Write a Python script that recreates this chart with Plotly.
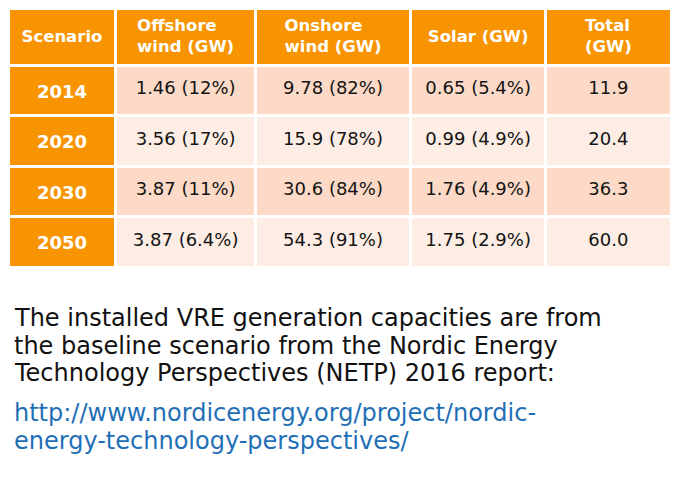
import plotly.graph_objects as go

scenarios = ["2014", "2020", "2030", "2050"]
offshore = ["1.46 (12%)", "3.56 (17%)", "3.87 (11%)", "3.87 (6.4%)"]
onshore = ["9.78 (82%)", "15.9 (78%)", "30.6 (84%)", "54.3 (91%)"]
solar = ["0.65 (5.4%)", "0.99 (4.9%)", "1.76 (4.9%)", "1.75 (2.9%)"]
total = ["11.9", "20.4", "36.3", "60.0"]
headers = ["Scenario", "Offshore<br>wind (GW)", "Onshore<br>wind (GW)", "Solar (GW)", "Total<br>(GW)"]

note_lines = [
    "The installed VRE generation capacities are from",
    "the baseline scenario from the Nordic Energy",
    "Technology Perspectives (NETP) 2016 report:",
]
link_lines = [
    "http://www.nordicenergy.org/project/nordic-",
    "energy-technology-perspectives/",
]

# page body has an 8px margin, so the figure sits at (8, 8) in the window
OFF = 8
W, H = 680 - OFF, 478 - OFF
ORANGE = "#F79400"
PEACH = "#FCDAC7"
LIGHT = "#FDEDE4"
FONT = "DejaVu Sans"
n = len(scenarios)
row_fill = [PEACH if i % 2 == 0 else LIGHT for i in range(n)]
colw = [108, 139.5, 155.5, 135, 125.5]
xdom = [0, sum(colw) / W]


def ydom(top, bottom):
    return [1 - (bottom - OFF) / H, 1 - (top - OFF) / H]


fig = go.Figure()

# cell backgrounds
fig.add_trace(go.Table(
    domain=dict(x=xdom, y=ydom(8.5, 272)),
    columnwidth=colw,
    header=dict(values=[""] * len(headers), fill_color=ORANGE,
                line=dict(color="white", width=3), height=56.5),
    cells=dict(values=[[""] * n] * 5,
               fill_color=[[ORANGE] * n, row_fill, row_fill, row_fill, row_fill],
               line=dict(color="white", width=3), height=50.5),
))

# two-line headers and body text
two_line = [h if "<br>" in h else "" for h in headers]
fig.add_trace(go.Table(
    domain=dict(x=xdom, y=ydom(8, 300)),
    columnwidth=colw,
    header=dict(values=["<b>%s</b>" % h if h else "" for h in two_line],
                fill_color="rgba(0,0,0,0)", line=dict(width=0),
                font=dict(family=FONT, size=16.5, color="white"),
                align="center", height=64.7),
    cells=dict(values=[["<b>%s</b>" % s for s in scenarios], offshore, onshore, solar, total],
               fill_color="rgba(0,0,0,0)", line=dict(width=0),
               font=dict(family=FONT, size=18,
                         color=[["white"] * n] + [["#141414"] * n] * 4),
               align="center", height=50.5),
))

# single-line headers
one_line = [h if "<br>" not in h else "" for h in headers]
fig.add_trace(go.Table(
    domain=dict(x=xdom, y=ydom(18.5, 120)),
    columnwidth=colw,
    header=dict(values=["<b>%s</b>" % h if h else "" for h in one_line],
                fill_color="rgba(0,0,0,0)", line=dict(width=0),
                font=dict(family=FONT, size=16.5, color="white"),
                align="center", height=40),
    cells=dict(values=[[""]] * 5, fill_color="rgba(0,0,0,0)",
               line=dict(width=0), height=10),
))

for t, y in zip(note_lines, [317.7, 345.7, 373.4]):
    fig.add_annotation(text=t, x=4 / W, y=1 - (y - OFF) / H, xref="paper", yref="paper",
                       xanchor="left", yanchor="middle", showarrow=False,
                       font=dict(family=FONT, size=24, color="#111111"))
for t, y in zip(link_lines, [412.5, 440.5]):
    fig.add_annotation(text=t, x=4 / W, y=1 - (y - OFF) / H, xref="paper", yref="paper",
                       xanchor="left", yanchor="middle", showarrow=False,
                       font=dict(family=FONT, size=24, color="#1F6FB6"))

fig.update_layout(width=W, height=H, margin=dict(l=0, r=0, t=0, b=0),
                  paper_bgcolor="white", plot_bgcolor="white")
fig.write_html("out.html")
